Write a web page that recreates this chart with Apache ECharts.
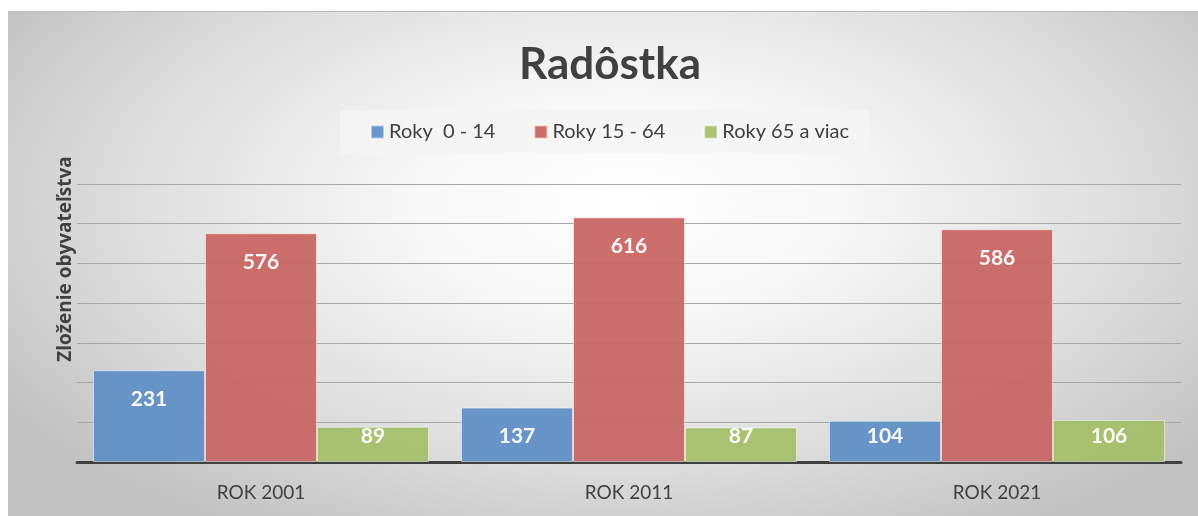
<!DOCTYPE html>
<html>
<head>
<meta charset="utf-8">
<script src="https://cdn.jsdelivr.net/npm/echarts@6/dist/echarts.min.js"></script>
<style>
    html, body { margin: 0; padding: 0; background: #ffffff; }
    #wrap {
        position: absolute; left: 8px; top: 11px; width: 1190px; height: 505px;
        border-top: 1px solid #b8b8b8;
        background: radial-gradient(ellipse 62% 75% at 52% 38%, #ffffff 0%, #f7f7f7 30%, #dcdcdc 70%, #c2c2c2 100%);
    }
    #chart { position: absolute; left: 0; top: 0; width: 1198px; height: 516px; }
</style>
</head>
<body>
<div id="wrap"></div>
<div id="chart"></div>
<script>
// data
const categories = ['ROK 2001', 'ROK 2011', 'ROK 2021'];
const seriesNames = ['Roky  0 - 14', 'Roky 15 - 64', 'Roky 65 a viac'];
const kids = [231, 137, 104];
const adults = [576, 616, 586];
const seniors = [89, 87, 106];
const colors = ['#6190c6', '#c96664', '#a4c06a'];

const chart = echarts.init(document.getElementById('chart'));
const font = 'Lato, "Open Sans", sans-serif';

// labels sit near the top of tall bars, near the bottom of short ones
function toData(arr) {
    return arr.map(function (v) {
        if (v < 135) {
            return { value: v, label: { position: 'insideBottom', distance: 15 } };
        }
        return { value: v, label: { position: 'insideTop', distance: 18 } };
    });
}

function makeSeries(name, arr, color) {
    return {
        name: name,
        type: 'bar',
        data: toData(arr),
        barGap: '0%',
        barCategoryGap: '8.7%',
        itemStyle: {
            color: color,
            opacity: 0.95,
            borderColor: 'rgba(255,255,255,0.55)',
            borderWidth: 1
        },
        label: {
            show: true,
            color: '#ffffff',
            fontFamily: font,
            fontWeight: 'bold',
            fontSize: 21
        }
    };
}

chart.setOption({
    animation: false,
    color: colors,
    title: {
        text: 'Radôstka',
        left: 605,
        textAlign: 'center',
        top: 38,
        textStyle: { fontFamily: font, fontSize: 44, fontWeight: 'bold', color: '#404040' }
    },
    legend: {
        top: 110,
        left: 340,
        padding: [12, 20, 12, 30],
        backgroundColor: 'rgba(245,245,245,0.85)',
        itemWidth: 13,
        itemHeight: 13,
        itemGap: 38,
        icon: 'rect',
        textStyle: { fontFamily: font, fontSize: 20, color: '#404040' },
        data: seriesNames
    },
    grid: { left: 77, right: 17, top: 184, bottom: 54 },
    xAxis: {
        type: 'category',
        data: categories,
        axisTick: { show: false },
        axisLine: { lineStyle: { color: '#404040', width: 3 } },
        axisLabel: { fontFamily: font, fontSize: 19, color: '#404040', margin: 21 }
    },
    yAxis: {
        type: 'value',
        min: 0,
        max: 700,
        interval: 100,
        axisLabel: { show: false },
        axisLine: { show: false },
        axisTick: { show: false },
        splitLine: { lineStyle: { color: '#a8a8a8', width: 1 } }
    },
    graphic: [{
        type: 'text',
        x: 66,
        y: 259,
        rotation: Math.PI / 2,
        style: {
            text: 'Zloženie obyvateľstva',
            fontFamily: '"Open Sans", "Noto Sans", sans-serif',
            fontSize: 19,
            fontWeight: 'bold',
            fill: '#404040',
            textAlign: 'center',
            textVerticalAlign: 'middle'
        }
    }],
    series: [
        makeSeries(seriesNames[0], kids, colors[0]),
        makeSeries(seriesNames[1], adults, colors[1]),
        makeSeries(seriesNames[2], seniors, colors[2])
    ]
});
</script>
</body>
</html>
